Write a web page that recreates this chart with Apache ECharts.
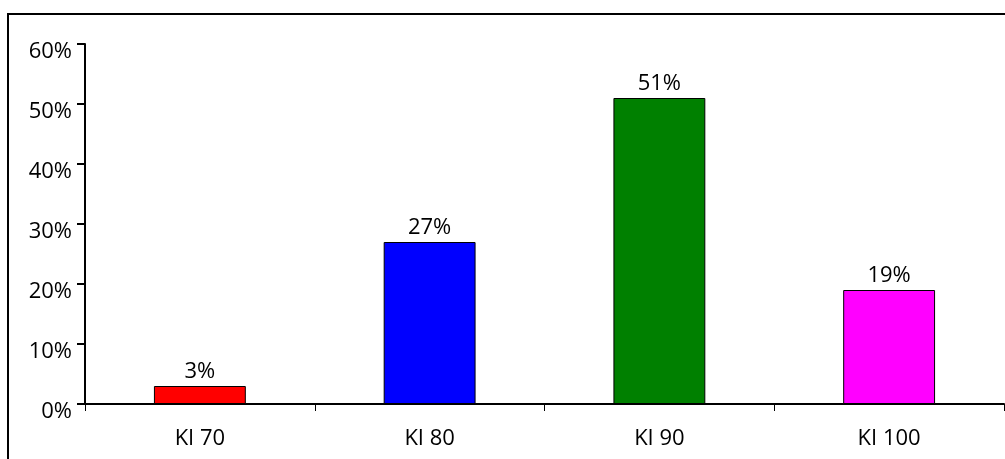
<!DOCTYPE html>
<html>
<head>
<meta charset="utf-8">
<style>
  html, body { margin: 0; padding: 0; background: #fff; overflow: hidden; }
  #frame { position: absolute; left: 7px; top: 13px; width: 1100px; height: 600px; border: 2px solid #000; box-sizing: border-box; }
  #chart { position: absolute; left: 0; top: 0; width: 1005px; height: 459px; }
</style>
<script src="https://cdn.jsdelivr.net/npm/echarts@6/dist/echarts.min.js"></script>
</head>
<body>
<div id="frame"></div>
<div id="chart"></div>
<script>
const categories = ['KI 70', 'KI 80', 'KI 90', 'KI 100'];
const values = [3, 27, 51, 19];
const barColors = ['#FF0000', '#0000FF', '#008000', '#FF00FF'];
const yTicks = [0, 10, 20, 30, 40, 50, 60];

const chart = echarts.init(document.getElementById('chart'), null, { renderer: 'canvas' });
const font = 'Open Sans';
const fontSize = 22;

chart.setOption({
  animation: false,
  grid: { left: 85, right: 1, top: 44, bottom: 55, containLabel: false },
  xAxis: {
    type: 'category',
    data: categories,
    boundaryGap: true,
    axisLine: { lineStyle: { color: '#000', width: 2 } },
    axisTick: { show: true, alignWithLabel: false, length: 7, lineStyle: { color: '#000', width: 1 } },
    axisLabel: { color: '#000', fontFamily: font, fontSize: fontSize, margin: 24 },
    splitLine: { show: false }
  },
  yAxis: {
    type: 'value',
    min: yTicks[0],
    max: yTicks[yTicks.length - 1],
    interval: 10,
    axisLine: { show: true, lineStyle: { color: '#000', width: 2 } },
    axisTick: { show: true, length: 8, lineStyle: { color: '#000', width: 2 } },
    axisLabel: {
      color: '#000', fontFamily: font, fontSize: fontSize, margin: 13,
      formatter: v => '{t|' + v + '%}',
      rich: {
        t: { color: '#000', fontFamily: font, fontSize: fontSize, padding: [16, 0, 0, 0] }
      }
    },
    splitLine: { show: false }
  },
  series: [{
    type: 'bar',
    barWidth: '40%',
    data: values.map((v, i) => ({
      value: v,
      itemStyle: { color: barColors[i], borderColor: '#000', borderWidth: 1 }
    })),
    label: {
      show: true,
      position: 'top',
      distance: 3,
      color: '#000',
      fontFamily: font,
      fontSize: fontSize,
      formatter: p => p.value + '%'
    }
  }]
});
</script>
</body>
</html>
